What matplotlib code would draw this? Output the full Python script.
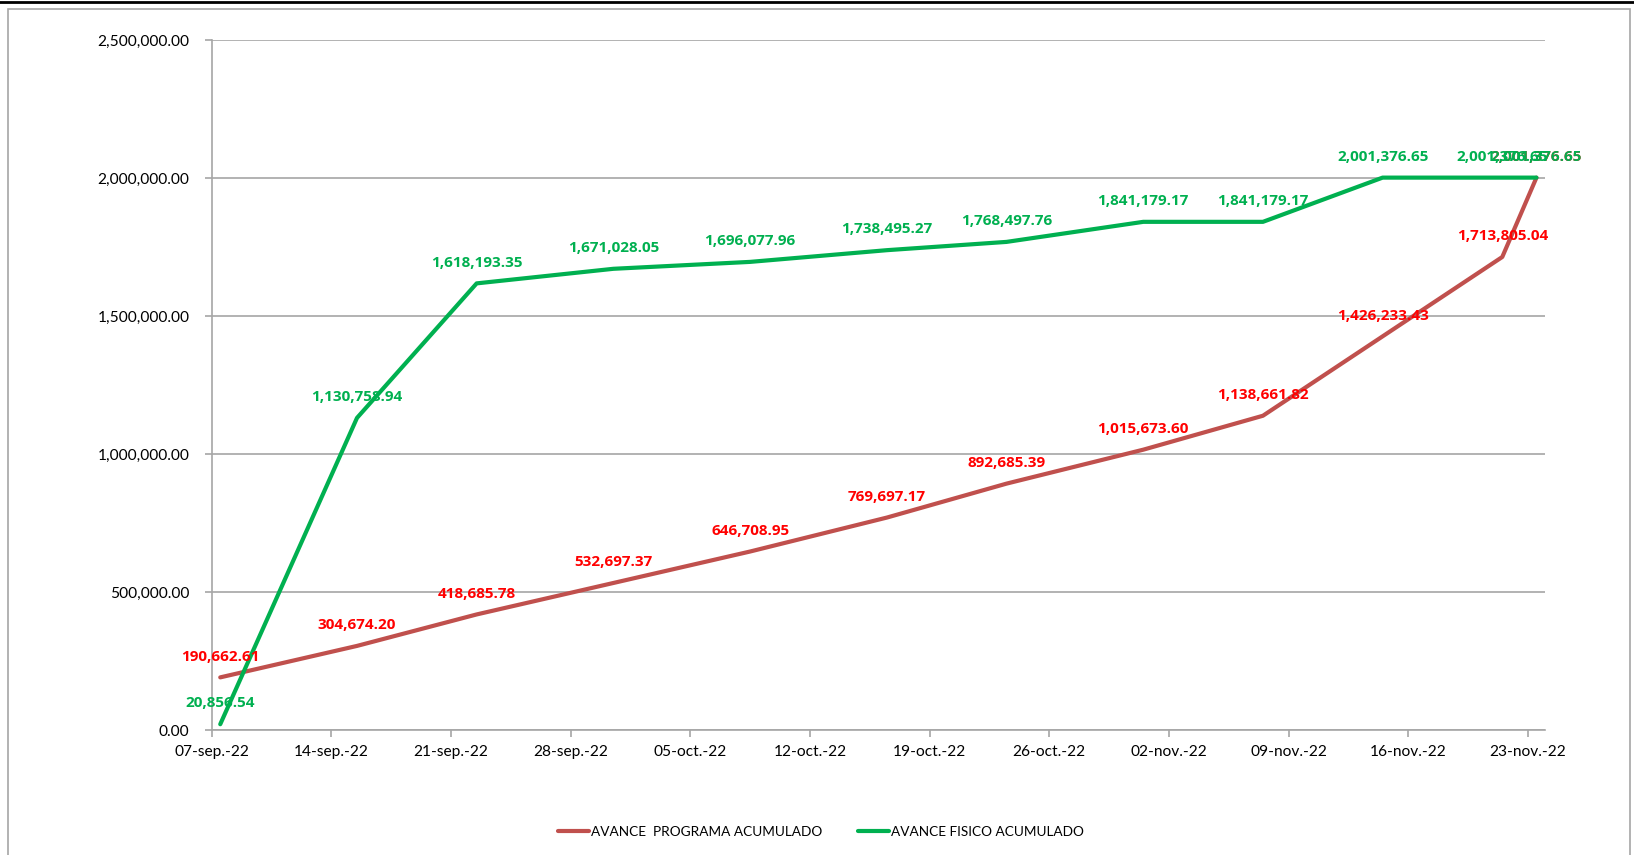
import matplotlib
matplotlib.use("Agg")
import matplotlib.pyplot as plt
from matplotlib.ticker import FuncFormatter
import pandas as pd

plt.rcParams['font.family'] = ['Lato', 'DejaVu Sans']

# fechas de corte (los puntos van a mitad del dia, como en Excel)
fechas = ["2022-09-07", "2022-09-15", "2022-09-22", "2022-09-30", "2022-10-08",
          "2022-10-16", "2022-10-23", "2022-10-31", "2022-11-07", "2022-11-14",
          "2022-11-21", "2022-11-23"]

programa = [190662.61, 304674.20, 418685.78, 532697.37, 646708.95, 769697.17,
            892685.39, 1015673.60, 1138661.82, 1426233.43, 1713805.04, 2001376.65]

fisico = [20856.54, 1130758.94, 1618193.35, 1671028.05, 1696077.96, 1738495.27,
          1768497.76, 1841179.17, 1841179.17, 2001376.65, 2001376.65, 2001376.65]

tick_fechas = ["2022-09-07", "2022-09-14", "2022-09-21", "2022-09-28", "2022-10-05",
               "2022-10-12", "2022-10-19", "2022-10-26", "2022-11-02", "2022-11-09",
               "2022-11-16", "2022-11-23"]
tick_labels = ["07-sep.-22", "14-sep.-22", "21-sep.-22", "28-sep.-22", "05-oct.-22",
               "12-oct.-22", "19-oct.-22", "26-oct.-22", "02-nov.-22", "09-nov.-22",
               "16-nov.-22", "23-nov.-22"]

x = pd.to_datetime(fechas) + pd.Timedelta(hours=12)

fig = plt.figure(figsize=(16.34, 8.55), dpi=100)
# marco del grafico
fig.patches.append(plt.Rectangle((8 / 1634, -0.01), (1630 - 8) / 1634, 1.0, transform=fig.transFigure,
                                 fill=False, edgecolor='#A6A6A6', linewidth=1.2))
fig.add_artist(plt.Line2D([0, 1], [1 - 2 / 855, 1 - 2 / 855], color='black', linewidth=2,
                          transform=fig.transFigure))

ax = fig.add_axes([211.7 / 1634, 1 - 730 / 855, (1545 - 211.7) / 1634, (730 - 40) / 855])

ax.plot(x, programa, color='#C0504D', linewidth=3, label='AVANCE  PROGRAMA ACUMULADO',
        solid_capstyle='round', zorder=3)
ax.plot(x, fisico, color='#00B050', linewidth=3, label='AVANCE FISICO ACUMULADO',
        solid_capstyle='round', zorder=3)

lbl = dict(ha='center', va='center', fontsize=11, fontweight='bold',
           family=['Open Sans', 'DejaVu Sans'], textcoords='offset points', xytext=(0, 15))
for xi, v in zip(x, programa):
    ax.annotate(f"{v:,.2f}", (xi, v), color='#FF0000', zorder=4, **lbl)
for xi, v in zip(x, fisico):
    ax.annotate(f"{v:,.2f}", (xi, v), color='#00B050', zorder=5, **lbl)

ax.set_ylim(0, 2500000)
ax.set_yticks([0, 500000, 1000000, 1500000, 2000000, 2500000])
ax.yaxis.set_major_formatter(FuncFormatter(lambda v, p: f"{v:,.2f}"))
ax.set_xlim(pd.Timestamp("2022-09-07"), pd.Timestamp("2022-11-24"))
ax.set_xticks(pd.to_datetime(tick_fechas))
ax.set_xticklabels(tick_labels)

ax.grid(axis='y', color='#A6A6A6', linewidth=1.2)
ax.set_axisbelow(True)
for s in ['top', 'right']:
    ax.spines[s].set_visible(False)
for s in ['left', 'bottom']:
    ax.spines[s].set_color('#A6A6A6')
    ax.spines[s].set_linewidth(1.2)
ax.tick_params(axis='both', colors='#A6A6A6', labelcolor='black', labelsize=11.2, length=5, width=1.2)
ax.tick_params(axis='y', pad=11)
ax.tick_params(axis='x', pad=6)

fig.legend(loc='center', bbox_to_anchor=(0.5025, 1 - 832 / 855), ncol=2, frameon=False,
           fontsize=9.8, handlelength=2.3, handletextpad=0.15, columnspacing=2.6)

fig.savefig("out.png", dpi=100)
